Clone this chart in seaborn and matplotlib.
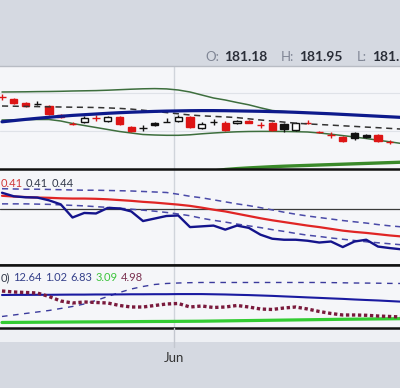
import numpy as np
import pandas as pd
import matplotlib
matplotlib.use("Agg")
import matplotlib.pyplot as plt
import seaborn as sns
from matplotlib.lines import Line2D
from matplotlib.patches import Rectangle

# ---------------- data ----------------
opens = [186.03, 185.80, 185.40, 185.32, 185.10, 184.15, 183.34, 183.50, 183.92, 183.60,
         184.00, 183.00, 182.92, 183.35, 183.52, 183.60, 184.00, 182.90, 183.52, 183.40,
         183.40, 183.55, 183.23, 183.40, 183.30, 182.70, 183.43, 182.53, 182.23, 182.00,
         182.40, 182.20, 182.20, 181.52]
highs = [186.30, 185.90, 185.50, 185.60, 185.20, 184.25, 183.45, 184.10, 184.15, 184.10,
         184.10, 183.10, 183.20, 183.50, 183.85, 184.20, 184.10, 183.50, 183.80, 183.60,
         183.70, 183.65, 183.50, 183.50, 183.40, 183.50, 183.65, 182.60, 182.45, 182.10,
         182.50, 182.30, 182.30, 181.70]
lows = [185.70, 185.30, 185.00, 185.20, 184.20, 183.90, 183.20, 183.40, 183.60, 183.50,
        183.20, 182.50, 182.60, 183.10, 183.45, 183.50, 182.90, 182.80, 183.20, 182.60,
        183.30, 183.35, 182.90, 182.60, 182.50, 182.60, 183.30, 182.40, 181.90, 181.50,
        181.70, 181.90, 181.50, 181.30]
closes = [185.97, 185.40, 185.10, 185.28, 184.30, 184.00, 183.28, 183.90, 183.87, 184.00,
          183.30, 182.60, 182.88, 183.20, 183.48, 184.00, 183.00, 183.30, 183.48, 182.70,
          183.60, 183.40, 183.17, 182.70, 182.75, 183.40, 183.38, 182.48, 182.17, 181.60,
          181.90, 182.00, 181.60, 181.47]

ema_long = [183.52, 183.64, 183.76, 183.87, 183.97, 184.07, 184.16, 184.23, 184.30, 184.37,
            184.43, 184.48, 184.52, 184.56, 184.59, 184.61, 184.63, 184.64, 184.64, 184.63,
            184.61, 184.59, 184.57, 184.54, 184.51, 184.47, 184.42, 184.37, 184.32, 184.26,
            184.20, 184.14, 184.08, 184.02, 183.96]
sma_mid = [185.10, 185.08, 185.06, 185.04, 185.02, 185.00, 184.98, 184.97, 184.95, 184.91,
           184.86, 184.79, 184.68, 184.56, 184.44, 184.32, 184.20, 184.12, 184.06, 184.01,
           183.94, 183.82, 183.70, 183.60, 183.49, 183.38, 183.31, 183.25, 183.19, 183.12,
           183.06, 182.99, 182.93, 182.86, 182.79]
band_upper = [186.50, 186.51, 186.52, 186.54, 186.55, 186.57, 186.60, 186.62, 186.64, 186.68,
              186.73, 186.78, 186.82, 186.84, 186.81, 186.70, 186.50, 186.20, 185.90, 185.70,
              185.45, 185.22, 184.92, 184.65, 184.55, 184.47, 184.42, 184.37, 184.32, 184.26,
              184.20, 184.14, 184.08, 184.02, 183.96]
band_lower = [183.70, 183.72, 183.74, 183.75, 183.75, 183.60, 183.35, 183.15, 182.95, 182.75,
              182.55, 182.40, 182.25, 182.20, 182.17, 182.17, 182.22, 182.32, 182.40, 182.47,
              182.52, 182.55, 182.56, 182.56, 182.55, 182.53, 182.50, 182.40, 182.28, 182.14,
              182.00, 181.85, 181.68, 181.52, 181.35]
sma_long = [np.nan] * 15 + [178.10, 178.25, 178.42, 178.60, 178.75, 178.84, 178.91, 178.97,
                            179.03, 179.08, 179.12, 179.16, 179.20, 179.24, 179.28, 179.32,
                            179.36, 179.40, 179.44, 179.48]

osc_line = [0.506, 0.492, 0.488, 0.487, 0.476, 0.460, 0.408, 0.426, 0.424, 0.446,
            0.444, 0.432, 0.394, 0.404, 0.414, 0.416, 0.370, 0.373, 0.376, 0.360,
            0.376, 0.367, 0.340, 0.324, 0.320, 0.320, 0.316, 0.309, 0.313, 0.291,
            0.313, 0.320, 0.293, 0.287, 0.282]
osc_signal = [0.494, 0.491, 0.489, 0.487, 0.486, 0.484, 0.483, 0.483, 0.482, 0.480,
              0.477, 0.474, 0.470, 0.467, 0.463, 0.459, 0.454, 0.447, 0.439, 0.432,
              0.423, 0.414, 0.405, 0.397, 0.390, 0.383, 0.376, 0.370, 0.363, 0.356,
              0.351, 0.347, 0.342, 0.337, 0.333]
osc_upper = [0.522, 0.521, 0.520, 0.520, 0.519, 0.518, 0.517, 0.516, 0.516, 0.515,
             0.514, 0.513, 0.511, 0.509, 0.507, 0.500, 0.492, 0.486, 0.478, 0.470,
             0.462, 0.455, 0.447, 0.438, 0.429, 0.421, 0.414, 0.408, 0.402, 0.396,
             0.391, 0.386, 0.380, 0.375, 0.371]
osc_lower = [0.462, 0.462, 0.462, 0.461, 0.460, 0.458, 0.456, 0.454, 0.451, 0.448,
             0.445, 0.441, 0.437, 0.433, 0.428, 0.422, 0.415, 0.405, 0.397, 0.390,
             0.382, 0.375, 0.368, 0.360, 0.353, 0.345, 0.338, 0.333, 0.327, 0.322,
             0.317, 0.312, 0.308, 0.304, 0.300]
osc_level = 0.442

dmi_blue = [8.25, 8.28, 8.28, 8.30, 8.30, 8.33, 8.35, 8.35, 8.38, 8.38,
            8.40, 8.43, 8.43, 8.45, 8.45, 8.48, 8.48, 8.48, 8.43, 8.38,
            8.30, 8.23, 8.13, 8.03, 7.90, 7.78, 7.65, 7.53, 7.40, 7.28,
            7.13, 7.00, 6.88, 6.73, 6.58]
dmi_dashed = [2.88, 3.25, 3.63, 4.00, 4.38, 4.88, 5.38, 6.00, 6.88, 7.88,
              8.88, 9.75, 10.38, 10.88, 11.13, 11.25, 11.33, 11.38, 11.38, 11.38,
              11.38, 11.38, 11.38, 11.38, 11.38, 11.38, 11.38, 11.38, 11.35, 11.30,
              11.25, 11.23, 11.20, 11.15, 11.13]
dmi_dotted = [9.25, 9.00, 8.88, 8.75, 7.88, 6.75, 6.25, 6.50, 6.38, 6.25,
              5.63, 5.25, 5.25, 5.63, 6.00, 6.13, 5.25, 5.50, 5.13, 5.25,
              5.63, 5.25, 4.75, 4.63, 5.00, 5.25, 4.75, 4.13, 3.63, 3.25,
              3.25, 3.18, 3.00, 2.88, 2.75]
dmi_green = [1.38, 1.40, 1.42, 1.44, 1.46, 1.48, 1.50, 1.52, 1.53, 1.55,
             1.57, 1.59, 1.61, 1.63, 1.64, 1.66, 1.68, 1.70, 1.74, 1.78,
             1.82, 1.86, 1.90, 1.94, 1.98, 2.02, 2.06, 2.10, 2.14, 2.18,
             2.21, 2.24, 2.27, 2.30, 2.33]

header_labels = ["O:", "H:", "L:"]
header_values = ["181.18", "181.95", "181."]
osc_texts = ["0.41", "0.41", "0.44"]
dmi_texts = ["0)", "12.64", "1.02", "6.83", "3.09", "4.98"]
month_label = "Jun"
month_pos = 14.64

# ---------------- style ----------------
sns.set_theme(style="white")
plt.rcParams["font.family"] = ["Lato", "DejaVu Sans"]

W, H = 400, 388
BG = "#d5d9e1"
PANEL = "#f5f6f9"
fig = plt.figure(figsize=(W / 100, H / 100), dpi=100, facecolor=BG)

def fy(py):
    return 1 - py / H

fig.patches.append(Rectangle((0, fy(342)), 1, 14 / H, transform=fig.transFigure,
                             facecolor="#eef0f4", edgecolor="none", zorder=-1))

XLIM = (-2 / 11.75, 398 / 11.75)

def make_ax(top, bottom):
    ax = fig.add_axes([0, fy(bottom), 1, (bottom - top) / H])
    ax.set_facecolor(PANEL)
    ax.set_xlim(*XLIM)
    ax.set_xticks([])
    ax.set_yticks([])
    for s in ["left", "right"]:
        ax.spines[s].set_visible(False)
    ax.axvline(month_pos, color="#d0d4db", lw=1.0, zorder=0.5)
    return ax

ax1 = make_ax(66, 169)
ax2 = make_ax(169, 265)
ax3 = make_ax(265, 328)

ax1.set_ylim(178.8, 189.1)
ax2.set_ylim(0.22, 0.60)
ax3.set_ylim(0, 15.75)

ax1.spines["top"].set_color("#b8bcc4")
ax1.spines["top"].set_linewidth(1.0)
ax1.spines["bottom"].set_visible(False)
for ax in (ax2, ax3):
    for s in ["top", "bottom"]:
        ax.spines[s].set_color("#111111")
        ax.spines[s].set_linewidth(1.8)

# ---------------- price panel ----------------
for gy in (186.4, 182.6):
    ax1.axhline(gy, color="#dfe2e8", lw=0.8, zorder=0.4)

idx = np.arange(len(ema_long))
price_lines = pd.DataFrame({"i": idx, "ema": ema_long, "mid": sma_mid, "up": band_upper,
                            "lo": band_lower, "slong": sma_long})

sns.lineplot(data=price_lines, x="i", y="up", ax=ax1, color="#3d6e3d", lw=1.1, zorder=2)
sns.lineplot(data=price_lines, x="i", y="lo", ax=ax1, color="#3d6e3d", lw=1.1, zorder=2)
sns.lineplot(data=price_lines, x="i", y="slong", ax=ax1, color="#3a8a2a", lw=2.4, zorder=2)

candles = pd.DataFrame({"open": opens, "high": highs, "low": lows, "close": closes})
candles["i"] = np.arange(len(candles))
prev = candles["close"].shift(1).fillna(candles["open"].iloc[0])
candles["col"] = np.where(candles["close"] < prev, "#dd1515", "#111111")
candles["fill"] = np.where(candles["close"] >= candles["open"], "#ffffff", candles["col"])

ax1.vlines(candles["i"], candles["low"], candles["high"], colors=candles["col"], lw=1.0, zorder=3)
body_lo = candles[["open", "close"]].min(axis=1)
body_h = (candles["open"] - candles["close"]).abs()
ax1.bar(candles["i"], body_h, bottom=body_lo, width=0.6, color=candles["fill"],
        edgecolor=candles["col"], linewidth=1.0, zorder=3.5)

sns.lineplot(data=price_lines, x="i", y="mid", ax=ax1, color="#333333", lw=1.1,
             linestyle=(0, (4, 3)), zorder=4)
sns.lineplot(data=price_lines, x="i", y="ema", ax=ax1, color="#0d1a8c", lw=2.3, zorder=4.5)

# ---------------- oscillator panel ----------------
osc = pd.DataFrame({"i": idx, "line": osc_line, "sig": osc_signal, "up": osc_upper, "lo": osc_lower})
ax2.axhline(osc_level, color="#3a3a3a", lw=0.9, zorder=1)
sns.lineplot(data=osc, x="i", y="up", ax=ax2, color="#4a4aa8", lw=1.1, linestyle=(0, (4, 3)), zorder=2)
sns.lineplot(data=osc, x="i", y="lo", ax=ax2, color="#4a4aa8", lw=1.1, linestyle=(0, (4, 3)), zorder=2)
sns.lineplot(data=osc, x="i", y="sig", ax=ax2, color="#e02525", lw=1.6, zorder=3)
sns.lineplot(data=osc, x="i", y="line", ax=ax2, color="#14148c", lw=1.7, zorder=4)

# ---------------- DMI panel ----------------
dmi = pd.DataFrame({"i": idx, "blue": dmi_blue, "dash": dmi_dashed, "dot": dmi_dotted, "green": dmi_green})
sns.lineplot(data=dmi, x="i", y="dash", ax=ax3, color="#3a3a9c", lw=1.0, linestyle=(0, (4, 4)), zorder=2)
sns.lineplot(data=dmi, x="i", y="blue", ax=ax3, color="#1a1aa0", lw=1.5, zorder=3)
sns.lineplot(data=dmi, x="i", y="green", ax=ax3, color="#33cc33", lw=2.3, zorder=3)
sns.lineplot(data=dmi, x="i", y="dot", ax=ax3, color="#7a1a3c", lw=2.4,
             linestyle=(0, (1.0, 0.8)), zorder=4)

for ax in (ax1, ax2, ax3):
    ax.set_xlabel("")
    ax.set_ylabel("")
    ax.set_xticks([])
    ax.set_yticks([])
    if ax.get_legend():
        ax.get_legend().remove()

# ---------------- texts ----------------
fig.add_artist(Line2D([174 / W, 174 / W], [fy(328), fy(347)], color="#c3c7cf", lw=1.0))
fig.text(174 / W, fy(362), month_label, ha="center", va="baseline", fontsize=9.5, color="#333333")

hx = [(205, 224), (281, 299), (357, 372)]
for (lx, vx), lab, val in zip(hx, header_labels, header_values):
    fig.text(lx / W, fy(61), lab, ha="left", va="baseline", fontsize=9.5, color="#808695")
    fig.text(vx / W, fy(61), val, ha="left", va="baseline", fontsize=10, color="#2a2e38",
             fontweight="bold")

renderer = fig.canvas.get_renderer()

def chain(texts, colors, x0, base_y, size, gap, bbox=None):
    x = x0
    for t, c in zip(texts, colors):
        kw = {}
        if bbox:
            kw["bbox"] = dict(boxstyle="square,pad=0.05", facecolor=PANEL, edgecolor="none")
        tx = fig.text(x / W, fy(base_y), t, ha="left", va="baseline", fontsize=size, color=c, **kw)
        ext = tx.get_window_extent(renderer)
        x = ext.x1 + gap

osc_c = ["#d03a3a", "#333a4a", "#333a4a"]
chain(osc_texts, osc_c, 0.5, 187, 8, 3.2)

dmi_c = ["#333a4a", "#34408a", "#34408a", "#34408a", "#3cc43c", "#7a3050"]
chain(dmi_texts, dmi_c, 0.5, 281, 8, 3.2, bbox=True)

fig.savefig("out.png", dpi=100, facecolor=BG)
